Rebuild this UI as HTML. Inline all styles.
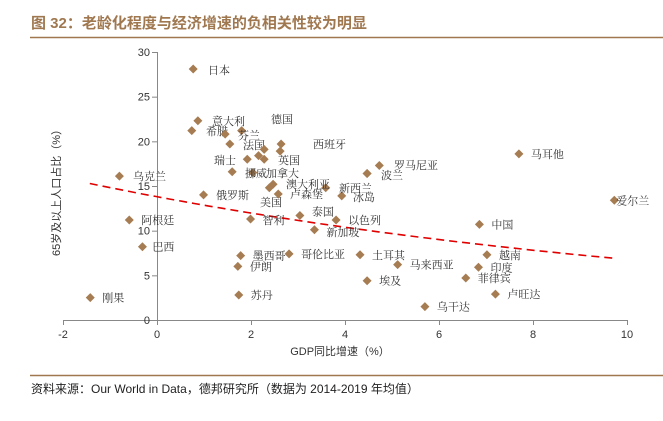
<!DOCTYPE html>
<html><head><meta charset="utf-8"><style>
body{margin:0;background:#fff;width:663px;height:416px;overflow:hidden;font-family:"Liberation Sans","Noto Sans CJK SC",sans-serif}
</style></head><body>
<svg width="663" height="416" xmlns="http://www.w3.org/2000/svg">
<text x="31" y="28" font-size="15" font-weight="bold" fill="#a07850" font-family="Liberation Sans, Noto Sans CJK SC, sans-serif">图 32：老龄化程度与经济增速的负相关性较为明显</text>
<line x1="30" y1="37.5" x2="663" y2="37.5" stroke="#a07850" stroke-width="1.5"/>
<line x1="30" y1="375.5" x2="663" y2="375.5" stroke="#a07850" stroke-width="1.5"/>
<text x="31" y="393" font-size="12" fill="#222" font-family="Liberation Sans, Noto Sans CJK SC, sans-serif">资料来源：Our World in Data，德邦研究所（数据为 2014-2019 年均值）</text>
<g id="axes"></g><g id="marks"></g>
</svg>
<script>
const countries=["日本","意大利","希腊","芬兰","葡萄牙","法国","德国","西班牙","荷兰","瑞士","比利时","英国","奥地利","挪威","加拿大","美国","澳大利亚","卢森堡","新西兰","冰岛","波兰","罗马尼亚","乌克兰","俄罗斯","阿根廷","巴西","刚果","智利","泰国","以色列","新加坡","墨西哥","伊朗","苏丹","哥伦比亚","土耳其","埃及","马耳他","爱尔兰","中国","越南","马来西亚","印度","菲律宾","卢旺达","乌干达"];
const gdpGrowth=[0.77,0.87,0.74,1.8,1.45,1.55,2.64,2.28,2.62,1.92,2.16,2.28,1.6,2.04,2.39,2.47,3.59,2.58,3.93,4.47,4.47,4.73,-0.8,0.99,-0.59,-0.31,-1.42,1.99,3.04,3.81,3.35,1.78,1.72,1.74,2.81,4.32,4.47,7.7,9.73,6.86,7.02,5.12,6.84,6.57,7.2,5.7];
const agedShare=[28.1,22.3,21.2,21.2,20.8,19.7,19.7,19.1,18.9,18.0,18.4,18.0,16.6,16.5,14.8,15.2,14.8,14.1,13.9,16.4,16.4,17.3,16.1,14.0,11.2,8.2,2.5,11.3,11.7,11.2,10.1,7.2,6.0,2.8,7.4,7.3,4.4,18.6,13.4,10.7,7.3,6.2,5.9,4.7,2.9,1.5];
const xTicks=[-2,0,2,4,6,8,10];
const yTicks=[0,5,10,15,20,25,30];
const trendCoef=[13.8,-0.0711];
const trendRange=[-1.43,9.75];
// fixed label placements for the crowded cluster (style, not data)
const absLbl={"日本":[208,74],"意大利":[212,125],"希腊":[206,135],"芬兰":[238,139],"德国":[271,123],"法国":[243,149],"西班牙":[313,148],"瑞士":[214,164],"英国":[278,164],"挪威":[245,177],"加拿大":[266,177],"澳大利亚":[286,188],"卢森堡":[290,198],"新西兰":[339,192],"冰岛":[353,201],"美国":[260,206],"俄罗斯":[216,199],"乌克兰":[133,180],"波兰":[381,179],"罗马尼亚":[394,169]};
const lblOff={"阿根廷":[12,4],"巴西":[10,4],"刚果":[12,4],"智利":[12,5],"泰国":[12,0],"以色列":[12,4],"新加坡":[12,6],"墨西哥":[12,4],"伊朗":[12,4],"苏丹":[12,4],"哥伦比亚":[12,4],"土耳其":[12,4],"埃及":[12,4],"马耳他":[12,4],"爱尔兰":[2,4],"中国":[12,4],"越南":[12,4],"马来西亚":[12,4],"印度":[12,4],"菲律宾":[12,4],"卢旺达":[12,4],"乌干达":[12,4]};
const X0=157,XS=47,Y0=320,YS=268/30;
const sx=v=>X0+v*XS, sy=v=>Y0-v*YS;
const NS="http://www.w3.org/2000/svg";
const ax=document.getElementById('axes'), mk=document.getElementById('marks');
function mkEl(t,a,p){const e=document.createElementNS(NS,t);for(const k in a)e.setAttribute(k,a[k]);p.appendChild(e);return e;}
let e=mkEl('line',{x1:sx(-2),y1:Y0+0.5,x2:sx(10),y2:Y0+0.5,stroke:'#888'},ax);


e=mkEl('line',{x1:X0+0.5,y1:sy(30),x2:X0+0.5,y2:Y0,stroke:'#888'},ax);


xTicks.forEach(t=>{
 let l=mkEl('line',{x1:sx(t)+0.5,y1:Y0,x2:sx(t)+0.5,y2:Y0+5,stroke:'#888'},ax);
 
 
 let tx=mkEl('text',{x:sx(t),y:Y0+18,'font-size':11,'text-anchor':'middle',fill:'#333'},ax);tx.textContent=t;
 
 
});
yTicks.forEach(t=>{
 let l=mkEl('line',{x1:X0-5,y1:sy(t)+0.5,x2:X0,y2:sy(t)+0.5,stroke:'#888'},ax);
 
 
 let tx=mkEl('text',{x:X0-7,y:sy(t)+4,'font-size':11,'text-anchor':'end',fill:'#333'},ax);tx.textContent=t;
 
 
});
e=mkEl('text',{x:340,y:355,'font-size':11,'text-anchor':'middle',fill:'#333'},ax);e.textContent='GDP同比增速（%）';


e=mkEl('text',{x:0,y:0,'font-size':11,'text-anchor':'middle',fill:'#333',transform:'translate(60,190) rotate(-90)'},ax);e.textContent='65岁及以上人口占比（%）';


let pts=[];for(let i=0;i<=40;i++){const x=trendRange[0]+(trendRange[1]-trendRange[0])*i/40;pts.push(sx(x).toFixed(1)+','+sy(trendCoef[0]*Math.exp(trendCoef[1]*x)).toFixed(1));}
e=mkEl('polyline',{points:pts.join(' '),fill:'none',stroke:'#e00000','stroke-width':1.6,'stroke-dasharray':'8,5'},mk);


countries.forEach((c,i)=>{
 const x=sx(gdpGrowth[i]),y=sy(agedShare[i]);
 const d=mkEl('path',{d:`M${x},${y-4.5}L${x+4.5},${y}L${x},${y+4.5}L${x-4.5},${y}Z`,fill:'#a67c52'},mk);
 
 
 let p=null;
 if(absLbl[c])p=absLbl[c];else if(lblOff[c])p=[x+lblOff[c][0],y+lblOff[c][1]];
 if(p){
  const t=mkEl('text',{x:p[0],y:p[1],'font-size':11,fill:'#333','font-family':'Noto Serif CJK SC, serif'},mk);t.textContent=c;
  
  
 }
});
</script>
</body></html>
